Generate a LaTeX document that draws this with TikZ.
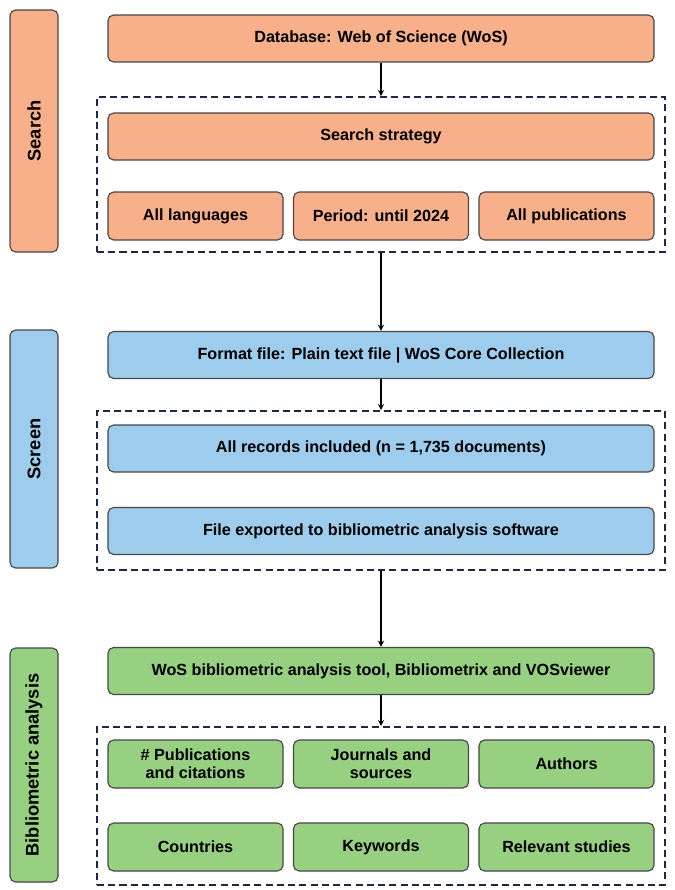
\documentclass[tikz,border=0pt]{standalone}
\usepackage{fontspec}
\setmainfont{Liberation Sans}
\usetikzlibrary{positioning}
\definecolor{searchOrange}{RGB}{248,176,138}
\definecolor{screenBlue}{RGB}{158,204,236}
\definecolor{biblioGreen}{RGB}{150,208,128}
\definecolor{edgeGray}{RGB}{70,70,70}
\definecolor{frameNavy}{RGB}{30,40,70}
\tikzset{
  box/.style={draw=edgeGray, rounded corners=4pt, line width=0.8pt, align=center,
    font=\fontsize{11.5}{13}\selectfont\bfseries, inner sep=2pt},
  wide/.style={box, minimum width=13.65cm, minimum height=1.175cm},
  small/.style={box, minimum width=4.375cm, minimum height=1.2cm},
  side/.style={box, minimum width=1.2cm, rotate=90, font=\fontsize{13}{15}\selectfont\bfseries},
  frame/.style={draw=frameNavy, dash pattern=on 5pt off 3pt, line width=1.1pt, minimum width=14.2cm},
  link/.style={->, >=stealth, line width=1pt}
}
\begin{document}
\begin{tikzpicture}
  \useasboundingbox (0,0) rectangle (16.85,-22.25);
  % side bars
  \node[side, fill=searchOrange, minimum width=6.05cm, minimum height=1.2cm] (search) at (0.85,-3.275) {Search};
  \node[side, fill=screenBlue, minimum width=5.95cm, minimum height=1.2cm] (screen) at (0.85,-11.225) {Screen};
  \node[side, fill=biblioGreen, minimum width=5.85cm, minimum height=1.2cm] (biblio) at (0.85,-19.125) {Bibliometric analysis};
  % search
  \node[wide, fill=searchOrange] (db) at (9.525,-0.9625) {Database: Web of Science (WoS)};
  \node[frame, minimum height=3.875cm] (frameA) at (9.525,-4.3625) {};
  \node[wide, fill=searchOrange] (strategy) at (9.525,-3.4125) {Search strategy};
  \node[small, fill=searchOrange] (lang) at (4.8875,-5.4) {All languages};
  \node[small, fill=searchOrange] (period) at (9.525,-5.4) {Period: until 2024};
  \node[small, fill=searchOrange] (pubs) at (14.1625,-5.4) {All publications};
  % screen
  \node[wide, fill=screenBlue] (format) at (9.525,-8.875) {Format file: Plain text file | WoS Core Collection};
  \node[frame, minimum height=3.975cm] (frameB) at (9.525,-12.2625) {};
  \node[wide, fill=screenBlue] (records) at (9.525,-11.2125) {All records included (n = 1,735 documents)};
  \node[wide, fill=screenBlue] (exported) at (9.525,-13.275) {File exported to bibliometric analysis software};
  % bibliometric analysis
  \node[wide, fill=biblioGreen] (tool) at (9.525,-16.775) {WoS bibliometric analysis tool, Bibliometrix and VOSviewer};
  \node[frame, minimum height=3.95cm] (frameC) at (9.525,-20.15) {};
  \node[small, fill=biblioGreen] (cites) at (4.8875,-19.1) {\# Publications\\and citations};
  \node[small, fill=biblioGreen] (journals) at (9.525,-19.1) {Journals and\\sources};
  \node[small, fill=biblioGreen] (authors) at (14.1625,-19.1) {Authors};
  \node[small, fill=biblioGreen] (countries) at (4.8875,-21.175) {Countries};
  \node[small, fill=biblioGreen] (keywords) at (9.525,-21.175) {Keywords};
  \node[small, fill=biblioGreen] (relevant) at (14.1625,-21.175) {Relevant studies};

  \draw[link] (db) -- (frameA);
  \draw[link] (frameA) -- (format);
  \draw[link] (format) -- (frameB);
  \draw[link] (frameB) -- (tool);
  \draw[link] (tool) -- (frameC);
\end{tikzpicture}
\end{document}
